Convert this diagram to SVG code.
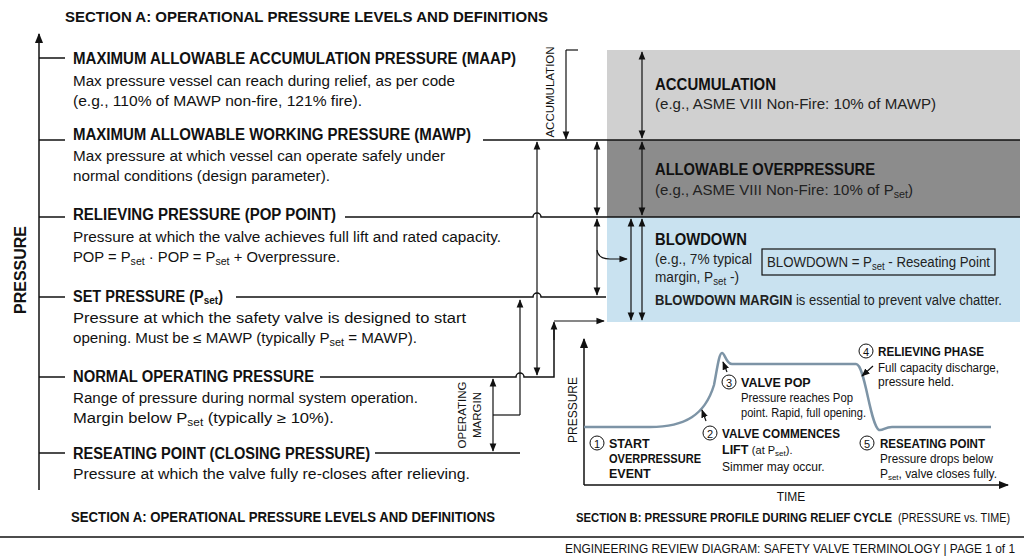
<svg xmlns="http://www.w3.org/2000/svg" width="1024" height="559" viewBox="0 0 1024 559">
<style>
text{font-family:"Liberation Sans",Arial,sans-serif;fill:#111}
.h{font-size:16px;font-weight:bold}
.b{font-size:14px}
.pb{font-size:17px;font-weight:bold}
.ps{font-size:14px;fill:#222}
.c{font-size:12.5px;font-weight:bold}
.cs{font-size:12px}
.ln{stroke:#111;stroke-width:1.5;fill:none}
.ar{stroke:#111;stroke-width:1.2;fill:none}
.sub{font-size:10px}
</style>
<defs>
<marker id="a" viewBox="0 0 10 10" refX="9" refY="5" markerWidth="7" markerHeight="7" orient="auto-start-reverse"><path d="M0,1 L10,5 L0,9 Z" fill="#111"/></marker>
</defs>
<rect width="1024" height="559" fill="#fff"/>
<g id="panel">
<rect x="607" y="50" width="413" height="90" fill="#d0d0d0"/>
<rect x="607" y="140" width="413" height="77" fill="#8c8c8c"/>
<rect x="607" y="217" width="413" height="105" fill="#c9e2f0"/>
<text class="pb" x="655" y="90" textLength="121" lengthAdjust="spacingAndGlyphs">ACCUMULATION</text>
<text class="ps" x="655" y="109" textLength="281" lengthAdjust="spacingAndGlyphs">(e.g., ASME VIII Non-Fire: 10% of MAWP)</text>
<text class="pb" x="655" y="175" textLength="220" lengthAdjust="spacingAndGlyphs">ALLOWABLE OVERPRESSURE</text>
<text class="ps" x="655" y="195" textLength="258" lengthAdjust="spacingAndGlyphs">(e.g., ASME VIII Non-Fire: 10% of P<tspan class="sub" dy="3">set</tspan><tspan dy="-3">)</tspan></text>
<text class="pb" x="655" y="245" textLength="92" lengthAdjust="spacingAndGlyphs">BLOWDOWN</text>
<text class="ps" x="655" y="264" textLength="97" lengthAdjust="spacingAndGlyphs">(e.g., 7% typical</text>
<text class="ps" x="655" y="282" textLength="84" lengthAdjust="spacingAndGlyphs">margin, P<tspan class="sub" dy="3">set</tspan><tspan dy="-3"> -)</tspan></text>
<rect x="762" y="249" width="233" height="26" fill="none" stroke="#111" stroke-width="1.2"/>
<text class="ps" x="767" y="267" textLength="223" lengthAdjust="spacingAndGlyphs">BLOWDOWN = P<tspan class="sub" dy="3">set</tspan><tspan dy="-3"> - Reseating Point</tspan></text>
<text class="ps" x="655" y="305" textLength="347" lengthAdjust="spacingAndGlyphs"><tspan font-weight="bold">BLOWDOWN MARGIN</tspan> is essential to prevent valve chatter.</text>
</g>
<g id="titles">
<text x="65" y="22" font-size="15" font-weight="bold" textLength="483" lengthAdjust="spacingAndGlyphs">SECTION A: OPERATIONAL PRESSURE LEVELS AND DEFINITIONS</text>
<text x="71" y="522" font-size="14" font-weight="bold" textLength="424" lengthAdjust="spacingAndGlyphs">SECTION A: OPERATIONAL PRESSURE LEVELS AND DEFINITIONS</text>
<text x="576" y="522" font-size="13" font-weight="bold" textLength="316" lengthAdjust="spacingAndGlyphs">SECTION B: PRESSURE PROFILE DURING RELIEF CYCLE</text>
<text x="898" y="522" font-size="12" textLength="112" lengthAdjust="spacingAndGlyphs">(PRESSURE vs. TIME)</text>
<line x1="0" y1="537" x2="1024" y2="537" stroke="#111" stroke-width="1.5"/>
<text x="565" y="553" font-size="13" textLength="450" lengthAdjust="spacingAndGlyphs">ENGINEERING REVIEW DIAGRAM: SAFETY VALVE TERMINOLOGY | PAGE 1 of 1</text>
<text transform="translate(26,270) rotate(-90)" font-size="16" font-weight="bold" text-anchor="middle">PRESSURE</text>
</g>
<g id="levels">
<line class="ln" x1="39" y1="490" x2="39" y2="34" marker-end="url(#a)"/>
<g id="maap"><line class="ln" x1="39" y1="58" x2="65" y2="58"/>
<text class="h" x="73" y="64" textLength="443" lengthAdjust="spacingAndGlyphs">MAXIMUM ALLOWABLE ACCUMULATION PRESSURE (MAAP)</text>
<text class="b" x="73" y="86" textLength="382" lengthAdjust="spacingAndGlyphs">Max pressure vessel can reach during relief, as per code</text>
<text class="b" x="73" y="106" textLength="289" lengthAdjust="spacingAndGlyphs">(e.g., 110% of MAWP non-fire, 121% fire).</text></g>
<g id="mawp"><line class="ln" x1="39" y1="140" x2="65" y2="140"/><line class="ln" x1="483" y1="140" x2="1020" y2="140"/>
<text class="h" x="73" y="140" textLength="398" lengthAdjust="spacingAndGlyphs">MAXIMUM ALLOWABLE WORKING PRESSURE (MAWP)</text>
<text class="b" x="73" y="161" textLength="372" lengthAdjust="spacingAndGlyphs">Max pressure at which vessel can operate safely under</text>
<text class="b" x="73" y="181" textLength="257" lengthAdjust="spacingAndGlyphs">normal conditions (design parameter).</text></g>
<g id="relieving"><line class="ln" x1="39" y1="217" x2="65" y2="217"/><path class="ln" d="M345,217 H533 a4,4 0 0 1 8,0 H1020"/>
<text class="h" x="73" y="220" textLength="263" lengthAdjust="spacingAndGlyphs">RELIEVING PRESSURE (POP POINT)</text>
<text class="b" x="73" y="242" textLength="428" lengthAdjust="spacingAndGlyphs">Pressure at which the valve achieves full lift and rated capacity.</text>
<text class="b" x="73" y="262" textLength="267" lengthAdjust="spacingAndGlyphs">POP = P<tspan class="sub" dy="3">set</tspan><tspan dy="-3"> · POP = P</tspan><tspan class="sub" dy="3">set</tspan><tspan dy="-3"> + Overpressure.</tspan></text></g>
<g id="set"><line class="ln" x1="39" y1="297" x2="65" y2="297"/><path class="ln" d="M236,297 H533 a4,4 0 0 1 8,0 H606"/>
<text class="h" x="73" y="302" textLength="150" lengthAdjust="spacingAndGlyphs">SET PRESSURE (P<tspan font-size="11" dy="2">set</tspan><tspan dy="-2">)</tspan></text>
<text class="b" x="73" y="323" textLength="393" lengthAdjust="spacingAndGlyphs">Pressure at which the safety valve is designed to start</text>
<text class="b" x="73" y="343" textLength="344" lengthAdjust="spacingAndGlyphs">opening. Must be ≤ MAWP (typically P<tspan class="sub" dy="3">set</tspan><tspan dy="-3"> = MAWP).</tspan></text></g>
<g id="normal"><line class="ln" x1="39" y1="377" x2="65" y2="377"/><path class="ln" d="M320,377 H516 a4,4 0 0 1 8,0 H554 V323"/>
<text class="h" x="73" y="382" textLength="241" lengthAdjust="spacingAndGlyphs">NORMAL OPERATING PRESSURE</text>
<text class="b" x="73" y="403" textLength="345" lengthAdjust="spacingAndGlyphs">Range of pressure during normal system operation.</text>
<text class="b" x="73" y="423" textLength="261" lengthAdjust="spacingAndGlyphs">Margin below P<tspan class="sub" dy="3">set</tspan><tspan dy="-3"> (typically ≥ 10%).</tspan></text></g>
<g id="reseat"><line class="ln" x1="39" y1="453" x2="65" y2="453"/><line class="ln" x1="375" y1="453" x2="520" y2="453"/>
<text class="h" x="73" y="459" textLength="297" lengthAdjust="spacingAndGlyphs">RESEATING POINT (CLOSING PRESSURE)</text>
<text class="b" x="73" y="479" textLength="397" lengthAdjust="spacingAndGlyphs">Pressure at which the valve fully re-closes after relieving.</text></g>
</g>
<g id="connectors">
<path class="ar" d="M566,50 H578"/>
<line class="ar" x1="566" y1="50" x2="566" y2="139" marker-end="url(#a)"/>
<text transform="translate(554,92) rotate(-90)" font-size="11.5" text-anchor="middle">ACCUMULATION</text>
<line class="ar" x1="642" y1="52" x2="642" y2="138" marker-start="url(#a)" marker-end="url(#a)"/>
<line class="ar" x1="642" y1="142" x2="642" y2="215" marker-start="url(#a)" marker-end="url(#a)"/>
<line class="ar" x1="642" y1="219" x2="642" y2="320" marker-start="url(#a)" marker-end="url(#a)"/>
<line class="ar" x1="631" y1="219" x2="631" y2="320" marker-start="url(#a)" marker-end="url(#a)"/>
<line class="ar" x1="597" y1="142" x2="597" y2="215" marker-start="url(#a)" marker-end="url(#a)"/>
<line class="ar" x1="597" y1="219" x2="597" y2="295" marker-start="url(#a)" marker-end="url(#a)"/>
<path class="ar" d="M597,250 Q598,259 610,259 H627" marker-end="url(#a)"/>
<line class="ar" x1="537" y1="142" x2="537" y2="375" marker-start="url(#a)" marker-end="url(#a)"/>
<line class="ar" x1="520" y1="415" x2="520" y2="300" marker-end="url(#a)"/>
<path class="ar" d="M520,415 H493"/>
<line class="ar" x1="493" y1="379" x2="493" y2="451" marker-start="url(#a)" marker-end="url(#a)"/>
<text transform="translate(466,415) rotate(-90)" font-size="11.5" text-anchor="middle">OPERATING</text>
<text transform="translate(481,415) rotate(-90)" font-size="11.5" text-anchor="middle">MARGIN</text>
<line class="ar" x1="554" y1="340" x2="554" y2="322" marker-end="url(#a)"/>
<line class="ar" x1="554" y1="321" x2="604" y2="321" marker-end="url(#a)"/>
</g>
<g id="chart">
<line class="ln" x1="584" y1="485" x2="584" y2="339" marker-end="url(#a)"/>
<line class="ln" x1="584" y1="485" x2="1008" y2="485" marker-end="url(#a)"/>
<text transform="translate(577,410) rotate(-90)" font-size="12" text-anchor="middle">PRESSURE</text>
<text x="791" y="501" font-size="12" text-anchor="middle">TIME</text>
<path d="M584,427 H650 C685,427 705,415 714,385 C717,370 719,353 722,353 C725,353 726,364 732,364 H856 C865,364 870,425 879,430 C883,431 885,427 892,427 H991" fill="none" stroke="#7d94a6" stroke-width="2.5"/>
<g id="s1"><circle cx="597" cy="443" r="7" fill="none" stroke="#111"/><text x="597" y="447.5" font-size="11" text-anchor="middle">1</text>
<text class="c" x="609" y="448">START</text><text class="c" x="609" y="463" textLength="92" lengthAdjust="spacingAndGlyphs">OVERPRESSURE</text><text class="c" x="609" y="478">EVENT</text></g>
<g id="s2"><circle cx="710" cy="433" r="7" fill="none" stroke="#111"/><text x="710" y="437.5" font-size="11" text-anchor="middle">2</text>
<text class="c" x="722" y="438" textLength="118" lengthAdjust="spacingAndGlyphs">VALVE COMMENCES</text>
<text class="c" x="722" y="454">LIFT <tspan font-weight="normal" font-size="11">(at P</tspan><tspan font-weight="normal" font-size="8" dy="2">set</tspan><tspan font-weight="normal" font-size="11" dy="-2">).</tspan></text>
<text class="cs" x="722" y="471">Simmer may occur.</text>
<line class="ar" x1="706" y1="421" x2="702" y2="410" marker-end="url(#a)"/></g>
<g id="s3"><circle cx="729" cy="382" r="7" fill="none" stroke="#111"/><text x="729" y="386.5" font-size="11" text-anchor="middle">3</text>
<text class="c" x="741" y="387">VALVE POP</text>
<text class="cs" x="741" y="402" textLength="112" lengthAdjust="spacingAndGlyphs">Pressure reaches Pop</text>
<text class="cs" x="741" y="417" textLength="125" lengthAdjust="spacingAndGlyphs">point. Rapid, full opening.</text>
<line class="ar" x1="727" y1="372" x2="723" y2="362" marker-end="url(#a)"/></g>
<g id="s4"><circle cx="866" cy="351" r="7" fill="none" stroke="#111"/><text x="866" y="355.5" font-size="11" text-anchor="middle">4</text>
<text class="c" x="878" y="356" textLength="106" lengthAdjust="spacingAndGlyphs">RELIEVING PHASE</text>
<text class="cs" x="878" y="372" textLength="121" lengthAdjust="spacingAndGlyphs">Full capacity discharge,</text>
<text class="cs" x="878" y="386">pressure held.</text>
<line class="ar" x1="873" y1="366" x2="862" y2="376" marker-end="url(#a)"/></g>
<g id="s5"><circle cx="867" cy="443" r="7" fill="none" stroke="#111"/><text x="867" y="447.5" font-size="11" text-anchor="middle">5</text>
<text class="c" x="880" y="448" textLength="105" lengthAdjust="spacingAndGlyphs">RESEATING POINT</text>
<text class="cs" x="880" y="463" textLength="113" lengthAdjust="spacingAndGlyphs">Pressure drops below</text>
<text class="cs" x="880" y="478" textLength="117" lengthAdjust="spacingAndGlyphs">P<tspan font-size="8" dy="2">set</tspan><tspan dy="-2">, valve closes fully.</tspan></text></g>
</g>
</svg>
